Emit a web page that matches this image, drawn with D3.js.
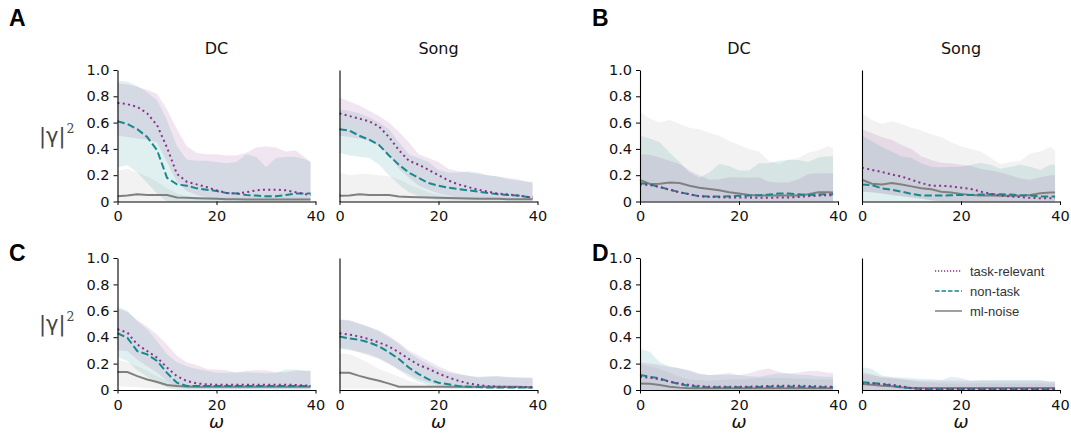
<!DOCTYPE html>
<html>
<head>
<meta charset="utf-8">
<script src="https://cdn.jsdelivr.net/npm/d3@7"></script>
<style>
  html, body { margin: 0; padding: 0; background: #fff; }
  svg { display: block; }
  .tick text { font-family: "DejaVu Sans", sans-serif; font-size: 14.5px; fill: #111; }
</style>
</head>
<body>
<svg id="chart" width="1071" height="434"></svg>
<script>
// ---------------- data ----------------
const omega = [0,2,4,6,8,10,12,14,16,18,20,22,24,26,28,30,32,34,36,38,39];
const yTicks = [0,0.2,0.4,0.6,0.8,1.0];
const xTicks = [0,20,40];
const seriesNames = ["task-relevant","non-task","ml-noise"];
const panelTitles = ["DC","Song"];
const panelLetters = ["A","B","C","D"];
const Z = [0,0,0,0,0,0,0,0,0,0,0,0,0,0,0,0,0,0,0,0,0];

// Panel A – DC
const A_DC_task     = [0.75,0.74,0.72,0.67,0.58,0.41,0.21,0.15,0.13,0.11,0.085,0.065,0.06,0.07,0.085,0.09,0.09,0.085,0.07,0.055,0.05];
const A_DC_task_hi  = [0.90,0.89,0.87,0.85,0.82,0.70,0.55,0.42,0.37,0.36,0.36,0.35,0.35,0.37,0.41,0.42,0.41,0.38,0.39,0.33,0.30];
const A_DC_task_lo  = [0.50,0.49,0.48,0.47,0.45,0.30,0.15,0.08,0.05,0.03,0.02,0.02,0.02,0.02,0.02,0.02,0.02,0.02,0.02,0.02,0.02];
const A_DC_non      = [0.61,0.59,0.55,0.49,0.39,0.18,0.13,0.12,0.10,0.09,0.08,0.065,0.06,0.05,0.045,0.04,0.04,0.05,0.06,0.06,0.06];
const A_DC_non_hi   = [0.92,0.91,0.88,0.83,0.77,0.62,0.42,0.32,0.31,0.31,0.30,0.29,0.30,0.36,0.34,0.26,0.33,0.34,0.34,0.32,0.30];
const A_DC_non_lo   = [0.26,0.275,0.22,0.14,0.06,0,0,0,0,0,0,0,0,0,0,0,0,0,0,0,0];
const A_DC_noise    = [0.04,0.045,0.055,0.05,0.05,0.05,0.03,0.028,0.025,0.022,0.02,0.018,0.017,0.016,0.015,0.015,0.015,0.015,0.015,0.015,0.015];
const A_DC_noise_hi = [0.23,0.25,0.22,0.19,0.15,0.10,0.06,0.04,0.035,0.03,0.03,0.03,0.03,0.03,0.03,0.03,0.03,0.03,0.03,0.03,0.03];

// Panel A – Song
const A_S_task     = [0.67,0.65,0.63,0.61,0.57,0.49,0.39,0.31,0.28,0.24,0.20,0.16,0.13,0.11,0.09,0.075,0.06,0.055,0.045,0.035,0.03];
const A_S_task_hi  = [0.79,0.76,0.73,0.69,0.65,0.60,0.53,0.45,0.36,0.33,0.30,0.25,0.23,0.22,0.21,0.20,0.19,0.18,0.17,0.15,0.15];
const A_S_task_lo  = [0.50,0.49,0.48,0.46,0.42,0.35,0.25,0.18,0.12,0.09,0.06,0.045,0.03,0.025,0.02,0.015,0.015,0.015,0.015,0.015,0.015];
const A_S_non      = [0.55,0.54,0.50,0.47,0.43,0.35,0.28,0.22,0.18,0.14,0.12,0.105,0.095,0.085,0.075,0.065,0.055,0.05,0.045,0.035,0.03];
const A_S_non_hi   = [0.70,0.69,0.67,0.64,0.60,0.55,0.45,0.36,0.33,0.30,0.24,0.22,0.22,0.23,0.22,0.20,0.19,0.17,0.16,0.15,0.14];
const A_S_non_lo   = [0.37,0.35,0.34,0.33,0.28,0.20,0.13,0.07,0.04,0.02,0.01,0.005,0.005,0.005,0.005,0.005,0.005,0.005,0.005,0.005,0.005];
const A_S_noise    = [0.043,0.045,0.055,0.05,0.05,0.05,0.038,0.035,0.032,0.03,0.028,0.026,0.024,0.022,0.02,0.02,0.02,0.018,0.018,0.018,0.018];
const A_S_noise_hi = [0.22,0.20,0.21,0.21,0.20,0.19,0.17,0.13,0.10,0.07,0.05,0.04,0.035,0.03,0.03,0.03,0.03,0.03,0.025,0.025,0.025];

// Panel B – DC
const B_DC_task     = [0.13,0.125,0.11,0.09,0.07,0.055,0.04,0.035,0.033,0.03,0.03,0.03,0.028,0.028,0.03,0.03,0.035,0.04,0.045,0.048,0.048];
const B_DC_task_hi  = [0.36,0.355,0.335,0.31,0.285,0.235,0.20,0.165,0.17,0.185,0.185,0.18,0.185,0.15,0.145,0.145,0.17,0.21,0.215,0.215,0.215];
const B_DC_non      = [0.14,0.13,0.11,0.09,0.07,0.055,0.04,0.038,0.038,0.04,0.043,0.045,0.048,0.053,0.06,0.06,0.055,0.05,0.053,0.055,0.055];
const B_DC_non_hi   = [0.50,0.48,0.45,0.37,0.30,0.22,0.18,0.22,0.285,0.27,0.235,0.235,0.29,0.29,0.31,0.315,0.315,0.30,0.335,0.345,0.345];
const B_DC_noise    = [0.165,0.134,0.135,0.145,0.14,0.12,0.105,0.095,0.085,0.07,0.06,0.05,0.045,0.045,0.045,0.045,0.045,0.055,0.07,0.07,0.068];
const B_DC_noise_hi = [0.68,0.63,0.60,0.62,0.59,0.56,0.55,0.52,0.50,0.46,0.43,0.40,0.38,0.31,0.285,0.32,0.33,0.37,0.39,0.42,0.40];

// Panel B – Song
const B_S_task     = [0.257,0.24,0.225,0.205,0.19,0.165,0.14,0.12,0.12,0.115,0.105,0.095,0.075,0.058,0.045,0.038,0.033,0.028,0.025,0.025,0.025];
const B_S_task_hi  = [0.55,0.52,0.49,0.47,0.43,0.40,0.345,0.315,0.295,0.29,0.28,0.27,0.25,0.235,0.22,0.20,0.175,0.165,0.185,0.20,0.20];
const B_S_task_lo  = [0.075,0.07,0.06,0.05,0.04,0.03,0.02,0.01,0,0,0,0,0,0,0,0,0,0,0,0,0];
const B_S_non      = [0.13,0.125,0.10,0.09,0.075,0.058,0.045,0.045,0.045,0.048,0.05,0.05,0.053,0.055,0.055,0.053,0.048,0.045,0.038,0.038,0.038];
const B_S_non_hi   = [0.50,0.46,0.415,0.38,0.345,0.33,0.29,0.265,0.26,0.265,0.265,0.28,0.295,0.28,0.25,0.265,0.28,0.265,0.24,0.28,0.28];
const B_S_noise    = [0.165,0.135,0.13,0.14,0.13,0.115,0.10,0.093,0.075,0.068,0.058,0.05,0.045,0.045,0.043,0.043,0.045,0.05,0.063,0.068,0.068];
const B_S_noise_hi = [0.67,0.62,0.59,0.61,0.59,0.56,0.54,0.51,0.49,0.45,0.42,0.40,0.38,0.33,0.285,0.30,0.31,0.365,0.38,0.415,0.39];
const B_S_noise_lo = [0.075,0.07,0.06,0.05,0.04,0.03,0.02,0.01,0,0,0,0,0,0,0,0,0,0,0,0,0];

// Panel C – DC
const C_DC_task     = [0.46,0.435,0.345,0.295,0.245,0.17,0.105,0.068,0.05,0.043,0.04,0.04,0.04,0.04,0.04,0.04,0.04,0.04,0.038,0.035,0.035];
const C_DC_task_hi  = [0.62,0.59,0.53,0.48,0.42,0.345,0.26,0.21,0.19,0.16,0.155,0.15,0.13,0.145,0.15,0.15,0.135,0.135,0.145,0.145,0.145];
const C_DC_task_lo  = [0.30,0.295,0.23,0.18,0.13,0.07,0.03,0.01,0.01,0.01,0.01,0.01,0.01,0.01,0.01,0.01,0.01,0.01,0.01,0.01,0.01];
const C_DC_non      = [0.43,0.395,0.295,0.27,0.22,0.13,0.055,0.03,0.03,0.03,0.03,0.03,0.03,0.03,0.03,0.03,0.03,0.03,0.03,0.03,0.03];
const C_DC_non_hi   = [0.63,0.60,0.52,0.46,0.37,0.27,0.21,0.18,0.16,0.145,0.13,0.13,0.135,0.135,0.13,0.126,0.13,0.155,0.155,0.145,0.145];
const C_DC_non_lo   = [0.25,0.22,0.15,0.10,0.05,0.02,0,0,0,0,0,0,0,0,0,0,0,0,0,0,0];
const C_DC_noise    = [0.136,0.136,0.105,0.08,0.06,0.038,0.03,0.027,0.025,0.025,0.025,0.025,0.025,0.025,0.025,0.025,0.025,0.025,0.025,0.025,0.025];
const C_DC_noise_hi = [0.23,0.21,0.18,0.145,0.105,0.07,0.045,0.03,0.03,0.03,0.03,0.03,0.03,0.03,0.03,0.03,0.03,0.03,0.03,0.03,0.03];
const C_DC_noise_lo = [0.03,0.025,0.02,0.015,0.01,0.01,0.01,0.01,0.01,0.01,0.01,0.01,0.01,0.01,0.01,0.01,0.01,0.01,0.01,0.01,0.01];

// Panel C – Song
const C_S_task     = [0.43,0.42,0.405,0.385,0.36,0.33,0.285,0.235,0.19,0.16,0.125,0.095,0.07,0.05,0.038,0.03,0.025,0.023,0.023,0.023,0.023];
const C_S_task_hi  = [0.535,0.53,0.505,0.48,0.45,0.41,0.36,0.30,0.26,0.22,0.18,0.145,0.125,0.11,0.095,0.10,0.105,0.10,0.095,0.095,0.095];
const C_S_task_lo  = [0.32,0.31,0.285,0.26,0.235,0.195,0.157,0.12,0.08,0.055,0.038,0.025,0.015,0.015,0.015,0.015,0.015,0.015,0.015,0.015,0.015];
const C_S_non      = [0.405,0.39,0.38,0.36,0.33,0.285,0.235,0.17,0.12,0.08,0.055,0.043,0.03,0.025,0.023,0.018,0.018,0.018,0.018,0.018,0.018];
const C_S_non_hi   = [0.535,0.525,0.50,0.475,0.445,0.40,0.35,0.285,0.235,0.195,0.157,0.13,0.12,0.107,0.10,0.105,0.105,0.095,0.095,0.09,0.09];
const C_S_non_lo   = [0.31,0.30,0.29,0.27,0.24,0.20,0.15,0.10,0.06,0.035,0.02,0.01,0.01,0.01,0.01,0.01,0.01,0.01,0.01,0.01,0.01];
const C_S_noise    = [0.13,0.13,0.107,0.087,0.07,0.048,0.025,0.025,0.025,0.025,0.025,0.025,0.025,0.025,0.025,0.025,0.025,0.025,0.025,0.02,0.018];
const C_S_noise_hi = [0.28,0.27,0.24,0.20,0.16,0.13,0.10,0.07,0.05,0.04,0.035,0.03,0.03,0.03,0.03,0.03,0.03,0.03,0.03,0.03,0.03];
const C_S_noise_lo = [0.01,0.01,0.01,0.01,0.01,0.01,0.01,0.01,0.01,0.01,0.01,0.01,0.01,0.01,0.01,0.01,0.01,0.01,0.01,0.01,0.01];

// Panel D – DC
const D_DC_task     = [0.10,0.093,0.08,0.063,0.05,0.038,0.03,0.025,0.025,0.025,0.025,0.025,0.028,0.03,0.033,0.033,0.033,0.03,0.027,0.025,0.025];
const D_DC_task_hi  = [0.21,0.20,0.19,0.175,0.163,0.15,0.125,0.113,0.115,0.13,0.113,0.125,0.15,0.163,0.138,0.125,0.13,0.143,0.143,0.13,0.13];
const D_DC_non      = [0.113,0.10,0.088,0.063,0.045,0.03,0.025,0.02,0.02,0.02,0.02,0.02,0.022,0.024,0.025,0.025,0.024,0.022,0.02,0.02,0.02];
const D_DC_non_hi   = [0.31,0.29,0.21,0.18,0.165,0.143,0.12,0.113,0.12,0.113,0.113,0.105,0.10,0.113,0.125,0.125,0.113,0.113,0.105,0.10,0.10];
const D_DC_noise    = [0.05,0.048,0.038,0.025,0.018,0.013,0.013,0.013,0.013,0.013,0.013,0.013,0.013,0.013,0.013,0.013,0.013,0.013,0.013,0.013,0.013];
const D_DC_noise_hi = [0.20,0.18,0.16,0.13,0.10,0.08,0.075,0.07,0.075,0.08,0.08,0.085,0.09,0.09,0.09,0.09,0.085,0.085,0.08,0.08,0.08];

// Panel D – Song
const D_S_task     = [0.05,0.05,0.045,0.04,0.028,0.015,0.008,0.008,0.008,0.008,0.008,0.008,0.008,0.008,0.008,0.008,0.008,0.008,0.008,0.008,0.008];
const D_S_task_hi  = [0.135,0.12,0.095,0.09,0.083,0.075,0.07,0.07,0.07,0.07,0.07,0.07,0.07,0.07,0.07,0.07,0.07,0.07,0.07,0.065,0.065];
const D_S_non      = [0.058,0.053,0.045,0.033,0.02,0.013,0.008,0.008,0.008,0.008,0.008,0.008,0.008,0.008,0.008,0.008,0.008,0.008,0.008,0.008,0.008];
const D_S_non_hi   = [0.175,0.16,0.11,0.10,0.095,0.09,0.083,0.083,0.075,0.10,0.09,0.07,0.075,0.075,0.075,0.075,0.075,0.075,0.075,0.065,0.065];
const D_S_noise    = [0.045,0.04,0.033,0.028,0.02,0.015,0.015,0.015,0.015,0.015,0.015,0.015,0.015,0.015,0.015,0.015,0.015,0.015,0.015,0.015,0.015];
const D_S_noise_hi = [0.12,0.11,0.10,0.09,0.08,0.07,0.06,0.055,0.05,0.05,0.05,0.05,0.05,0.05,0.05,0.05,0.05,0.05,0.05,0.05,0.05];

// ---------------- assembly ----------------
const panelData = [
  {row:0, col:0, task:[A_DC_task,A_DC_task_lo,A_DC_task_hi], non:[A_DC_non,A_DC_non_lo,A_DC_non_hi], noise:[A_DC_noise,Z,A_DC_noise_hi]},
  {row:0, col:1, task:[A_S_task,A_S_task_lo,A_S_task_hi], non:[A_S_non,A_S_non_lo,A_S_non_hi], noise:[A_S_noise,Z,A_S_noise_hi]},
  {row:0, col:2, task:[B_DC_task,Z,B_DC_task_hi], non:[B_DC_non,Z,B_DC_non_hi], noise:[B_DC_noise,Z,B_DC_noise_hi]},
  {row:0, col:3, task:[B_S_task,B_S_task_lo,B_S_task_hi], non:[B_S_non,Z,B_S_non_hi], noise:[B_S_noise,B_S_noise_lo,B_S_noise_hi]},
  {row:1, col:0, task:[C_DC_task,C_DC_task_lo,C_DC_task_hi], non:[C_DC_non,C_DC_non_lo,C_DC_non_hi], noise:[C_DC_noise,C_DC_noise_lo,C_DC_noise_hi]},
  {row:1, col:1, task:[C_S_task,C_S_task_lo,C_S_task_hi], non:[C_S_non,C_S_non_lo,C_S_non_hi], noise:[C_S_noise,C_S_noise_lo,C_S_noise_hi]},
  {row:1, col:2, task:[D_DC_task,Z,D_DC_task_hi], non:[D_DC_non,Z,D_DC_non_hi], noise:[D_DC_noise,Z,D_DC_noise_hi]},
  {row:1, col:3, task:[D_S_task,Z,D_S_task_hi], non:[D_S_non,Z,D_S_non_hi], noise:[D_S_noise,Z,D_S_noise_hi]}
];

// ---------------- layout & style ----------------
const colX = [117.5, 339.5, 640, 862];
const plotW = 198;
const rowY = [[70, 201.5], [258, 390]];
const styles = {
  task:  {stroke:"#8b2f8b", fill:"rgba(128,0,128,0.10)", dash:"2,3.3", width:2},
  non:   {stroke:"#17898a", fill:"rgba(0,128,128,0.12)", dash:"7.4,3.2", width:2},
  noise: {stroke:"#808080", fill:"rgba(128,128,128,0.10)", dash:null, width:2}
};

const svg = d3.select("#chart");

panelData.forEach(p => {
  const x = d3.scaleLinear().domain([0, 40]).range([colX[p.col], colX[p.col] + plotW]);
  const y = d3.scaleLinear().domain([0, 1]).range([rowY[p.row][1], rowY[p.row][0]]);
  const g = svg.append("g");

  // bands
  ["task","non","noise"].forEach(k => {
    const [mean, lo, hi] = p[k];
    const area = d3.area()
      .x((d, i) => x(omega[i]))
      .y0((d, i) => y(lo[i]))
      .y1((d, i) => y(hi[i]));
    g.append("path").datum(mean).attr("d", area).attr("fill", styles[k].fill).attr("stroke", "none");
  });
  // lines
  ["noise","non","task"].forEach(k => {
    const line = d3.line().x((d, i) => x(omega[i])).y(d => y(d));
    const pth = g.append("path").datum(p[k][0]).attr("d", line)
      .attr("fill", "none").attr("stroke", styles[k].stroke)
      .attr("stroke-width", styles[k].width);
    if (styles[k].dash) pth.attr("stroke-dasharray", styles[k].dash);
  });

  // axes
  const isLeft = (p.col % 2 === 0);
  const yAxis = d3.axisLeft(y).tickSizeOuter(0).tickSizeInner(4).tickPadding(4)
    .tickValues(isLeft ? yTicks : [])
    .tickFormat(d => d === 0 ? "0" : d.toFixed(1));
  const ya = g.append("g").attr("transform", `translate(${colX[p.col]},0)`).call(yAxis);
  const xAxis = d3.axisBottom(x).tickValues(xTicks).tickSizeOuter(0).tickSizeInner(3.5).tickPadding(6);
  const xa = g.append("g").attr("transform", `translate(0,${rowY[p.row][1]})`).call(xAxis);
  [ya, xa].forEach(a => {
    a.select(".domain").attr("stroke", "#000").attr("stroke-width", 1.1);
    a.selectAll(".tick line").attr("stroke", "#000").attr("stroke-width", 1);
  });

  const cx = colX[p.col] + plotW / 2;
  if (p.row === 0) {
    g.append("text").attr("x", cx).attr("y", 54).attr("text-anchor", "middle")
      .attr("font-family", "DejaVu Sans, sans-serif").attr("font-size", 16).attr("fill", "#111")
      .text(panelTitles[p.col % 2]);
  } else {
    g.append("text").attr("x", cx).attr("y", 428).attr("text-anchor", "middle")
      .attr("font-family", "DejaVu Sans, sans-serif").attr("font-style", "italic")
      .attr("font-size", 18).attr("fill", "#111").text("ω");
  }
  if (p.col === 0) {
    const mid = (rowY[p.row][0] + rowY[p.row][1]) / 2;
    const t = g.append("text").attr("x", 39).attr("y", mid + 7)
      .attr("font-family", "DejaVu Sans, sans-serif").attr("font-size", 21).attr("fill", "#444");
    t.append("tspan").text("|γ|");
    t.append("tspan").attr("font-family", "DejaVu Serif, serif").attr("font-size", 12.5)
      .attr("dy", -10).attr("dx", 1).text("2");
  }
});

// panel letters
const letterPos = [[9, 26], [592, 26], [9, 261], [592, 261]];
panelLetters.forEach((L, i) => {
  svg.append("text").attr("x", letterPos[i][0]).attr("y", letterPos[i][1])
    .attr("font-family", "Liberation Sans, Arial, sans-serif").attr("font-weight", "bold")
    .attr("font-size", 23).attr("fill", "#000").text(L);
});

// legend
const legKeys = ["task","non","noise"];
const legY = [271, 291, 311];
legKeys.forEach((k, i) => {
  const lg = svg.append("g");
  const ln = lg.append("line").attr("x1", 935).attr("x2", 962).attr("y1", legY[i]).attr("y2", legY[i])
    .attr("stroke", styles[k].stroke).attr("stroke-width", 1.5);
  if (k === "task") ln.attr("stroke-dasharray", "1.2,1.8");
  if (k === "non") ln.attr("stroke-dasharray", "4.5,2");
  lg.append("text").attr("x", 970).attr("y", legY[i] + 4.5)
    .attr("font-family", "Liberation Sans, Arial, sans-serif").attr("font-size", 13)
    .attr("fill", "#333").text(seriesNames[i]);
});
</script>
</body>
</html>
